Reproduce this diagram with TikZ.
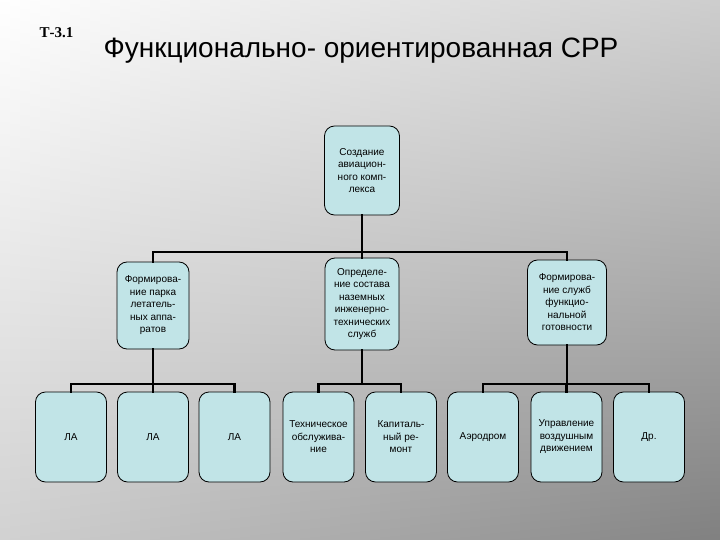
\documentclass[tikz,border=0pt]{standalone}
\usepackage{fontspec}
\setmainfont{Liberation Sans}
\newfontfamily\serifb{Liberation Serif}
\definecolor{boxfill}{RGB}{193,228,231}
\tikzset{
  x=1pt, y=-1pt,
  orgbox/.style={draw=black, line width=0.8pt, fill=boxfill, rounded corners=10pt,
    align=center, font=\fontsize{10}{12.5}\selectfont, inner sep=1pt},
  mid/.style={orgbox, minimum width=75pt, minimum height=89pt},
  low/.style={orgbox, minimum width=71pt, minimum height=90pt},
  link/.style={line width=2.6pt, black, line join=miter, line cap=rect}
}
\begin{document}
\begin{tikzpicture}
\useasboundingbox (0,0) rectangle (720,540);
% background gradient
\foreach \i in {0,...,71}{
  \pgfmathsetmacro\tc{(255-50*(\i+0.5)/72)/255}
  \pgfmathsetmacro\bc{(210-82*(\i+0.5)/72)/255}
  \definecolor{tcol}{gray}{\tc}
  \definecolor{bcol}{gray}{\bc}
  \shade[top color=tcol, bottom color=bcol] (10*\i,0) rectangle (10*\i+10.6,540);
}
% titles
\node[font=\serifb\bfseries\fontsize{15}{15}\selectfont, anchor=west] (code) at (36,33) {Т-3.1};
\node[font=\fontsize{28}{28}\selectfont, anchor=west] (title) at (100,51) {Функционально- ориентированная СРР};
% nodes
\node[orgbox, minimum width=75pt, minimum height=89pt] (top) at (362,170.5) {Создание\\авиацион-\\ного комп-\\лекса};
\node[mid, minimum width=72pt, minimum height=87pt] (m1) at (153,305.5) {Формирова-\\ние парка\\летатель-\\ных аппа-\\ратов};
\node[mid, minimum width=74pt, minimum height=92pt] (m2) at (362,304) {Определе-\\ние состава\\наземных\\инженерно-\\технических\\служб};
\node[mid, minimum width=79pt, minimum height=85pt] (m3) at (567,302.5) {Формирова-\\ние служб\\функцио-\\нальной\\готовности};
\node[low] (b1) at (71,437) {ЛА};
\node[low] (b2) at (153,437) {ЛА};
\node[low] (b3) at (234.5,437) {ЛА};
\node[low] (b4) at (318.5,437) {Техническое\\обслужива-\\ние};
\node[low] (b5) at (401,437) {Капиталь-\\ный ре-\\монт};
\node[low] (b6) at (483,437) {Аэродром};
\node[low] (b7) at (566.5,437) {Управление\\воздушным\\движением};
\node[low] (b8) at (649,437) {Др.};
% bar coordinates
\coordinate (j0) at (362,252);
\coordinate (j1) at (153,384);
\coordinate (j2) at (362,384);
\coordinate (j3) at (567,384);
% connectors
\draw[link] (top.south) -- (j0);
\draw[link] (m1.north) -- (m1.north |- j0) -- (m3.north |- j0) -- (m3.north);
\draw[link] (m2.north) -- (m2.north |- j0);
\draw[link] (m1.south) -- (j1);
\draw[link] (b1.north) -- (b1.north |- j1) -- (b3.north |- j1) -- (b3.north);
\draw[link] (b2.north) -- (b2.north |- j1);
\draw[link] (m2.south) -- (j2);
\draw[link] (b4.north) -- (b4.north |- j2) -- (b5.north |- j2) -- (b5.north);
\draw[link] (m3.south) -- (j3);
\draw[link] (b6.north) -- (b6.north |- j3) -- (b8.north |- j3) -- (b8.north);
\draw[link] (b7.north) -- (b7.north |- j3);
\end{tikzpicture}
\end{document}
